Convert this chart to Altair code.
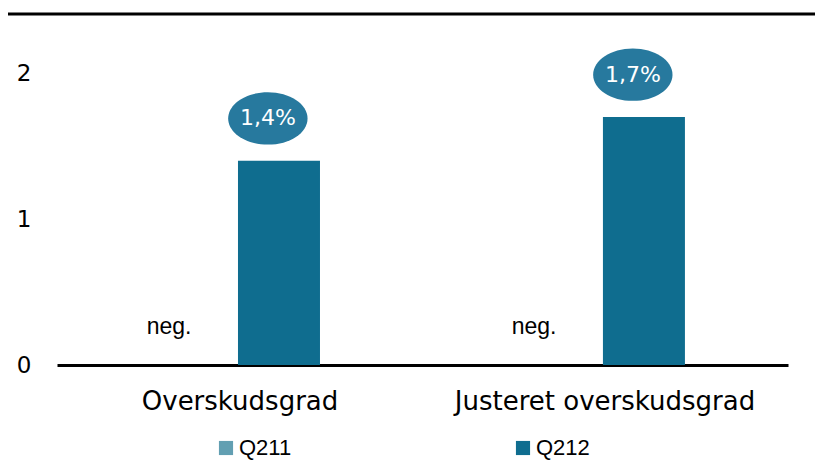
import altair as alt
import pandas as pd

categories = ["Overskudsgrad", "Justeret overskudsgrad"]
series = ["Q211", "Q212"]
q211_values = [0.0, 0.0]
q211_labels = ["neg.", "neg."]
q212_values = [1.4, 1.7]
q212_labels = ["1,4%", "1,7%"]

colors = {"Q211": "#629FB2", "Q212": "#0F6D8F"}
bubble_color = "#27799E"

rows = []
for c, v, l in zip(categories, q211_values, q211_labels):
    rows.append({"cat": c, "series": "Q211", "value": v, "label": l})
for c, v, l in zip(categories, q212_values, q212_labels):
    rows.append({"cat": c, "series": "Q212", "value": v, "label": l})
df = pd.DataFrame(rows)

W, H = 731, 321

x_enc = alt.X("cat:N", sort=categories,
              scale=alt.Scale(paddingInner=0.573, paddingOuter=0.288),
              axis=alt.Axis(title=None, labelAngle=0, ticks=False, domain=True,
                            domainColor="#000000", domainWidth=3,
                            labelFont="DejaVu Sans", labelFontSize=26, labelLimit=0,
                            labelColor="#000000", labelPadding=23))
xo_enc = alt.XOffset("series:N", sort=series,
                     scale=alt.Scale(paddingInner=0, paddingOuter=0))
y_enc = alt.Y("value:Q", scale=alt.Scale(domain=[0, 2.2], nice=False),
              axis=alt.Axis(title=None, values=[0, 1, 2], format="d", grid=False,
                            domain=False, ticks=False, labelFont="DejaVu Sans",
                            labelFontSize=23, labelColor="#000000", labelPadding=26))

base = alt.Chart(df)

bars = base.mark_bar(width=82).encode(
    x=x_enc, xOffset=xo_enc, y=y_enc,
    color=alt.Color("series:N", sort=series,
                    scale=alt.Scale(domain=series, range=[colors[s] for s in series]),
                    legend=alt.Legend(title=None, orient="none", legendX=158, legendY=393,
                                      direction="horizontal", columnPadding=220,
                                      symbolType="square", symbolSize=200,
                                      symbolStrokeWidth=0, labelFont="Liberation Sans",
                                      labelFontSize=22, labelColor="#000000",
                                      labelOffset=2, padding=0)),
)

neg = base.transform_filter(alt.datum.series == "Q211").mark_text(
    font="Liberation Sans", fontSize=23, color="#000000", dx=-32, dy=-38
).encode(x=x_enc, xOffset=xo_enc, y=y_enc, text="label:N")

ellipse_path = "M-1.28,0A1,0.66,0,1,1,0.72,0A1,0.66,0,1,1,-1.28,0Z"
bubbles = base.transform_filter(alt.datum.series == "Q212").transform_calculate(
    ly="datum.value + 0.29"
).mark_point(shape=ellipse_path, filled=True, size=6300, opacity=1,
             color=bubble_color).encode(
    x=x_enc, xOffset=xo_enc, y=alt.Y("ly:Q"),
)

pct = base.transform_filter(alt.datum.series == "Q212").transform_calculate(
    ly="datum.value + 0.29"
).mark_text(font="DejaVu Sans", fontSize=22, color="#ffffff", dx=-11).encode(
    x=x_enc, xOffset=xo_enc, y=alt.Y("ly:Q"), text="label:N"
)

top_rule = alt.Chart(pd.DataFrame({"k": [0]})).mark_rule(
    color="#000000", strokeWidth=3, clip=False
).encode(x=alt.value(-52), x2=alt.value(766), y=alt.value(-30))

chart = alt.layer(bars, neg, bubbles, pct, top_rule).properties(
    width=W, height=H,
    autosize=alt.AutoSizeParams(type="none"),
    padding={"left": 49, "top": 36, "right": 27, "bottom": 96},
).configure_view(stroke=None).configure_axis(labelFontWeight="normal")

chart.save("out.html", embed_options={"renderer": "svg", "actions": False})
